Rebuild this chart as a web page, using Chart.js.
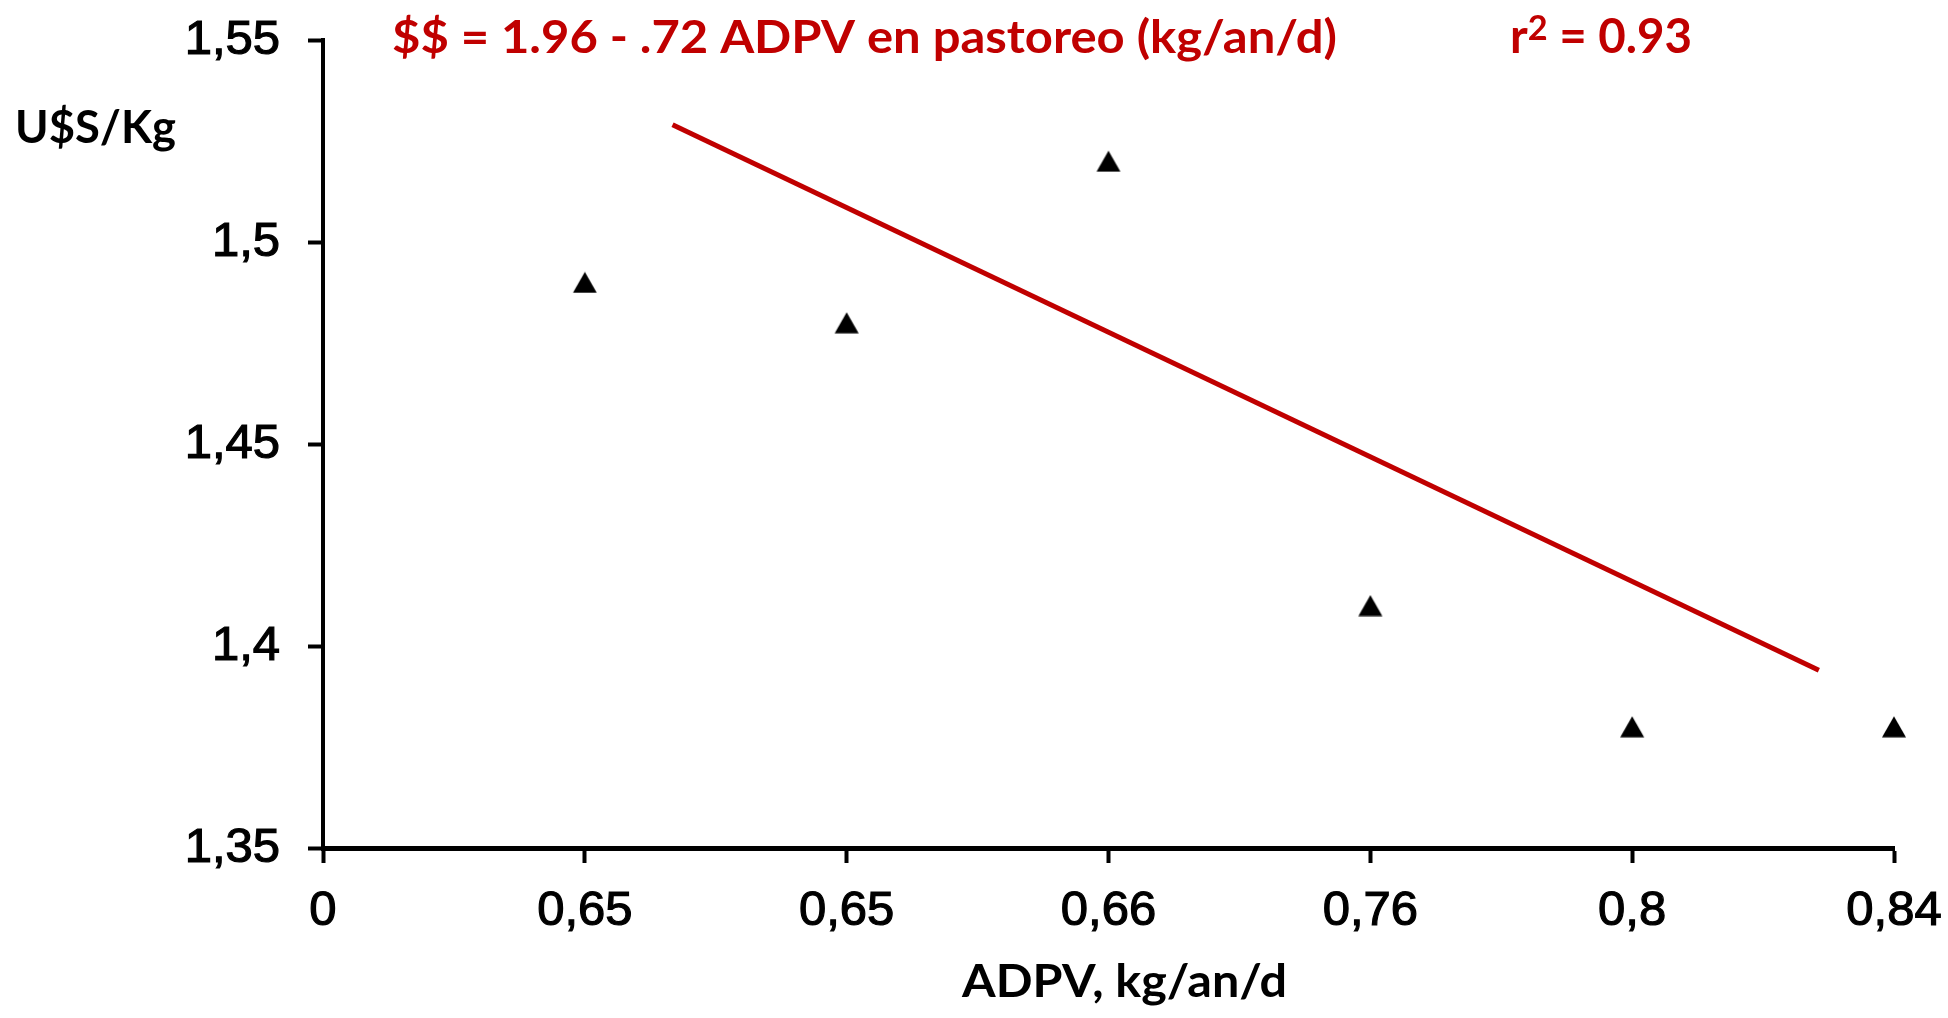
<!DOCTYPE html>
<html>
<head>
<meta charset="utf-8">
<script src="https://cdn.jsdelivr.net/npm/chart.js@4.4.1/dist/chart.umd.min.js"></script>
<style>
  html, body { margin: 0; padding: 0; background: #ffffff; }
  #wrap { width: 1948px; height: 1018px; }
</style>
</head>
<body>
<div id="wrap"><canvas id="c" width="1948" height="1018"></canvas></div>
<script>
// ---- data ----
const xTickLabels = ['0', '0,65', '0,65', '0,66', '0,76', '0,8', '0,84'];
const pointCategoryIndex = [1, 2, 3, 4, 5, 6];
const priceValues = [1.49, 1.48, 1.52, 1.41, 1.38, 1.38];
const trendX = [1.335, 5.713];
const trendY = [1.529, 1.394];
const yTicks = [1.35, 1.4, 1.45, 1.5, 1.55];
const yTickLabels = ['1,35', '1,4', '1,45', '1,5', '1,55'];
const titleText = '$$ = 1.96 - .72 ADPV en pastoreo (kg/an/d)';
const yTitleText = 'U$S/Kg';
const xTitleText = 'ADPV, kg/an/d';

const RED = '#C00000';
const TITLE_FONT = 'Lato, "Open Sans", sans-serif';

// triangle marker centred on its bounding box (like the original spreadsheet marker)
function makeTriangleMarker() {
  const c = document.createElement('canvas');
  c.width = 26; c.height = 22;
  const g = c.getContext('2d');
  g.fillStyle = '#000000';
  g.beginPath();
  g.moveTo(13, 0.6);
  g.lineTo(25, 21.4);
  g.lineTo(1, 21.4);
  g.closePath();
  g.fill();
  return c;
}

function drawFitText(ctx, text, x, baseline, targetW, size, color) {
  ctx.save();
  ctx.font = 'bold ' + size + 'px ' + TITLE_FONT;
  const w = ctx.measureText(text).width;
  const sx = targetW / w;
  ctx.translate(x, baseline);
  ctx.scale(sx, 1);
  ctx.fillStyle = color;
  ctx.textAlign = 'left';
  ctx.textBaseline = 'alphabetic';
  ctx.fillText(text, 0, 0);
  ctx.restore();
}

const textPlugin = {
  id: 'texts',
  afterDraw(chart) {
    const ctx = chart.ctx;
    // equation title
    drawFitText(ctx, titleText, 392, 53, 945, 46, RED);
    // r^2 = 0.93
    ctx.save();
    const size = 47;
    ctx.font = 'bold ' + size + 'px ' + TITLE_FONT;
    const wr = ctx.measureText('r').width;
    const supFont = 'bold ' + Math.round(size * 0.72) + 'px ' + TITLE_FONT;
    ctx.font = supFont;
    const w2 = ctx.measureText('2').width;
    ctx.font = 'bold ' + size + 'px ' + TITLE_FONT;
    const wrest = ctx.measureText(' = 0.93').width;
    const total = wr + w2 + wrest;
    const sx = 182 / total;
    ctx.translate(1510, 53);
    ctx.scale(sx, 1);
    ctx.fillStyle = RED;
    ctx.textBaseline = 'alphabetic';
    ctx.fillText('r', 0, 0);
    ctx.font = supFont;
    ctx.fillText('2', wr, -13);
    ctx.font = 'bold ' + size + 'px ' + TITLE_FONT;
    ctx.fillText(' = 0.93', wr + w2, 0);
    ctx.restore();
    // axis titles
    drawFitText(ctx, yTitleText, 15, 143, 161, 45, '#000000');
    drawFitText(ctx, xTitleText, 962, 997, 325, 45, '#000000');
  }
};

const pointData = pointCategoryIndex.map((xi, i) => ({ x: xi, y: priceValues[i] }));
const trendData = trendX.map((x, i) => ({ x: x, y: trendY[i] }));

const tickFont = { family: '"Liberation Sans", Arial, sans-serif', size: 49, weight: 'normal' };

new Chart(document.getElementById('c'), {
  type: 'scatter',
  data: {
    datasets: [
      {
        type: 'line',
        data: trendData,
        borderColor: RED,
        borderWidth: 5,
        pointRadius: 0,
        fill: false,
        tension: 0,
        clip: false,
        order: 2
      },
      {
        type: 'scatter',
        data: pointData,
        pointStyle: makeTriangleMarker(),
        pointRadius: 13,
        backgroundColor: '#000000',
        borderWidth: 0,
        clip: false,
        order: 1
      }
    ]
  },
  options: {
    responsive: false,
    animation: false,
    devicePixelRatio: 1,
    events: [],
    layout: { padding: { left: 0, right: 54, top: 40, bottom: 0 } },
    plugins: {
      legend: { display: false },
      title: { display: false },
      tooltip: { enabled: false }
    },
    scales: {
      x: {
        type: 'linear',
        min: 0,
        max: 6,
        afterFit(scale) {
          scale.height = 170;
          scale.paddingLeft = 0;
          scale.paddingRight = 0;
        },
        afterBuildTicks(scale) {
          scale.ticks = xTickLabels.map((_, i) => ({ value: i }));
        },
        ticks: {
          color: '#000000',
          font: tickFont,
          padding: 19,
          maxRotation: 0,
          autoSkip: false,
          textStrokeColor: '#000000',
          textStrokeWidth: 1.2,
          callback: (v) => xTickLabels[Math.round(v)]
        },
        grid: {
          display: true,
          drawOnChartArea: false,
          drawTicks: true,
          tickLength: 15,
          tickWidth: 4,
          tickColor: '#000000'
        },
        border: { display: true, color: '#000000', width: 5 }
      },
      y: {
        type: 'linear',
        min: 1.35,
        max: 1.55,
        afterFit(scale) {
          scale.width = 323;
          scale.paddingTop = 0;
          scale.paddingBottom = 0;
        },
        afterBuildTicks(scale) {
          scale.ticks = yTicks.map(v => ({ value: v }));
        },
        ticks: {
          color: '#000000',
          font: tickFont,
          padding: 28,
          autoSkip: false,
          textStrokeColor: '#000000',
          textStrokeWidth: 1.2,
          callback: (v) => {
            const i = yTicks.findIndex(t => Math.abs(t - v) < 1e-6);
            return i >= 0 ? yTickLabels[i] : '';
          }
        },
        grid: {
          display: true,
          drawOnChartArea: false,
          drawTicks: true,
          tickLength: 15,
          tickWidth: 4,
          tickColor: '#000000'
        },
        border: { display: true, color: '#000000', width: 4 }
      }
    }
  },
  plugins: [textPlugin]
});
</script>
</body>
</html>
